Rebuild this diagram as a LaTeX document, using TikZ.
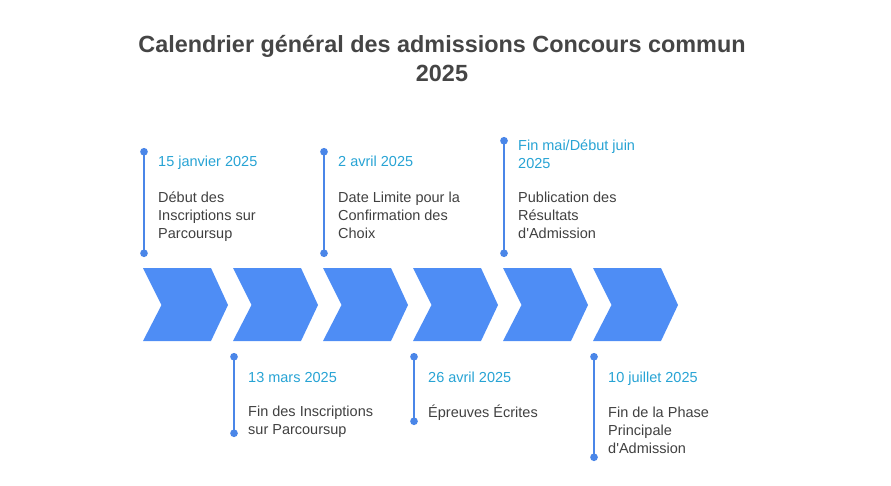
\documentclass[tikz,border=0pt]{standalone}
\usepackage{fontspec}
\setmainfont{Liberation Sans}[Ligatures=TeXOff]
\usepackage{xcolor}
\usetikzlibrary{arrows.meta}
\definecolor{chevblue}{RGB}{78,141,245}
\definecolor{lineblue}{RGB}{74,134,232}
\definecolor{datecyan}{RGB}{39,163,212}
\definecolor{textgray}{RGB}{64,64,64}
\definecolor{titlegray}{RGB}{69,69,69}

\begin{document}
\begin{tikzpicture}[x=1pt,y=-1pt,
	date/.style={anchor=base west, inner sep=0pt, align=left, text=datecyan, font=\fontsize{14.5}{18}\selectfont},
	desc/.style={anchor=base west, inner sep=0pt, align=left, text=textgray, font=\fontsize{14.5}{18}\selectfont},
	stem/.style={lineblue, line width=2.4pt, {Circle[length=7.5pt]}-{Circle[length=7.5pt]}}]
				% Canvas
				\useasboundingbox (0,0) rectangle (891,485);
				
				% Title
				\node[anchor=base, inner sep=0pt, text=titlegray, font=\fontsize{23.4}{29}\selectfont\bfseries] (title1) at (442,52) {Calendrier général des admissions Concours commun};
				\node[anchor=base, inner sep=0pt, text=titlegray, font=\fontsize{23.4}{29}\selectfont\bfseries] (title2) at (442,81) {2025};
				
				% Chevrons
				\foreach \x in {143,233,323,413,503,593}
					\fill[chevblue] (\x,268) -- (\x+68,268) -- (\x+85,305) -- (\x+68,341) -- (\x,341) -- (\x+18.5,305) -- cycle;
				
				% Top events (base = last line)
				\coordinate (s1a) at (144,148);  \coordinate (s1b) at (144,257);
				\coordinate (s3a) at (324,148);  \coordinate (s3b) at (324,257);
				\coordinate (s5a) at (504,137);  \coordinate (s5b) at (504,257);
				\draw[stem] (s1a) -- (s1b);
				\draw[stem] (s3a) -- (s3b);
				\draw[stem] (s5a) -- (s5b);
				\node[date] (d1) at (158,166) {15 janvier 2025};
				\node[desc] (t1) at (158,238.5) {Début des\\Inscriptions sur\\Parcoursup};
				\node[date] (d3) at (338,166) {2 avril 2025};
				\node[desc] (t3) at (338,238.5) {Date Limite pour la\\Confirmation des\\Choix};
				\node[date] (d5) at (518,168.5) {Fin mai/Début juin\\2025};
				\node[desc] (t5) at (518,238.5) {Publication des\\Résultats\\d'Admission};
				
				% Bottom events
				\coordinate (s2a) at (234,353);  \coordinate (s2b) at (234,437);
				\coordinate (s4a) at (414,353);  \coordinate (s4b) at (414,425);
				\coordinate (s6a) at (594,353);  \coordinate (s6b) at (594,461);
				\draw[stem] (s2a) -- (s2b);
				\draw[stem] (s4a) -- (s4b);
				\draw[stem] (s6a) -- (s6b);
				\node[date] (d2) at (248,382) {13 mars 2025};
				\node[desc] (t2) at (248,434) {Fin des Inscriptions\\sur Parcoursup};
				\node[date] (d4) at (428,382) {26 avril 2025};
				\node[desc] (t4) at (428,417.5) {Épreuves Écrites};
				\node[date] (d6) at (608,382) {10 juillet 2025};
				\node[desc] (t6) at (608,453.5) {Fin de la Phase\\Principale\\d'Admission};
				
			\end{tikzpicture}
\end{document}
